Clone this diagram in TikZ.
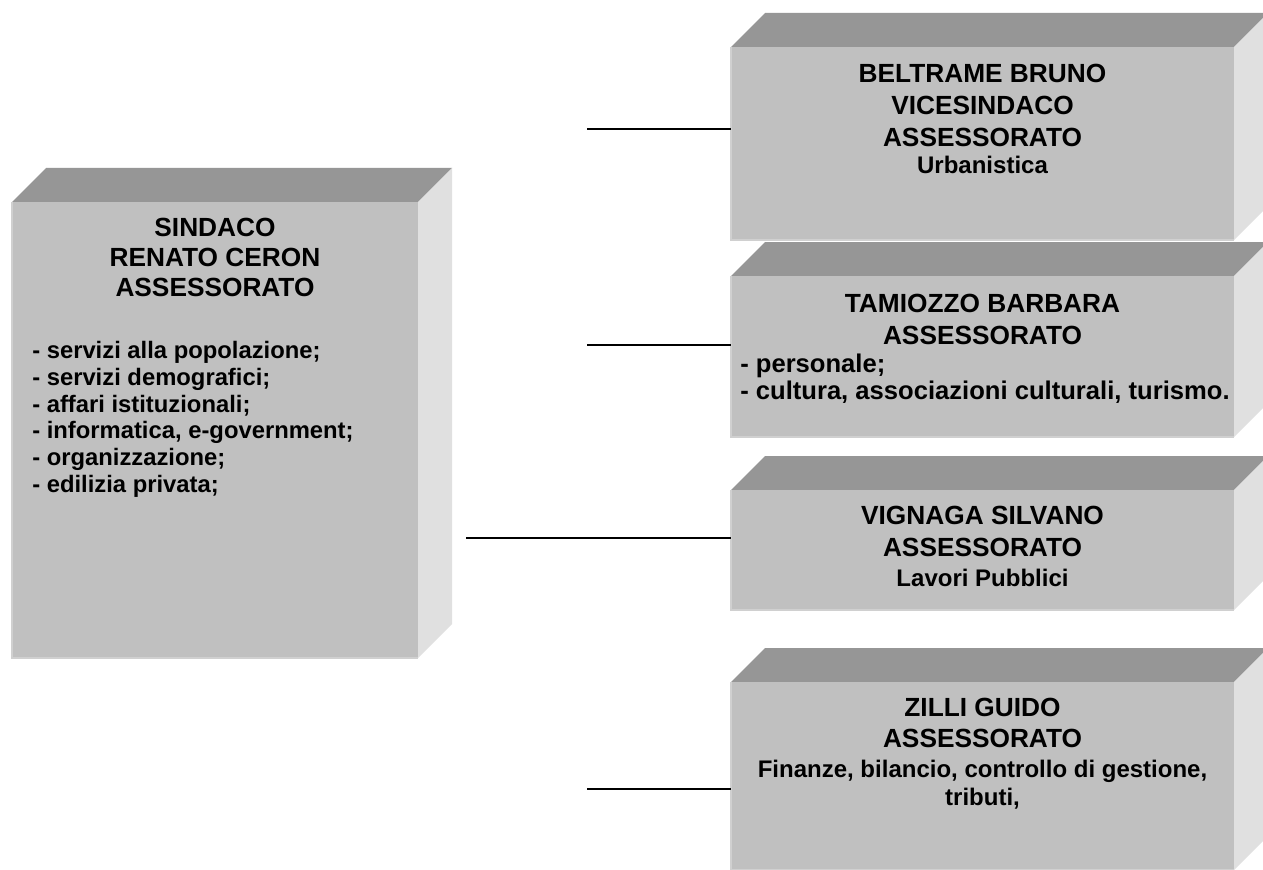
\documentclass[tikz,border=0pt]{standalone}
\usepackage{fontspec}
\setmainfont{Liberation Sans}
\usetikzlibrary{fit}

\definecolor{topface}{HTML}{969696}
\definecolor{frontface}{HTML}{C0C0C0}
\definecolor{sideface}{HTML}{E0E0E0}
\definecolor{frontedge}{HTML}{D0D0D0}

% 3D block: name, left, top, right, bottom of the front face (px, y downward)
\newcommand{\blockbox}[5]{%
  \fill[topface] (#2,#3) -- ++(34,-34) -- (#4+34,#3-34) -- (#4,#3) -- cycle;
  \fill[sideface] (#4,#3) -- (#4+34,#3-34) -- (#4+34,#5-34) -- (#4,#5) -- cycle;
  \coordinate (#1-nw) at (#2,#3);
  \coordinate (#1-se) at (#4,#5);
  \node[frontbox, fit=(#1-nw)(#1-se)] (#1) {};
  \draw[bevel] (#1.north west) -- (#1.south west) -- (#1.south east);
}

\tikzset{
  frontbox/.style={fill=frontface, inner sep=0pt, outer sep=0pt},
  bevel/.style={frontedge, line width=1.2pt},
  conn/.style={black, line width=1.1pt},
  head/.style={anchor=base, inner sep=0pt, font=\bfseries\fontsize{19.7}{23}\selectfont},
  sub/.style={anchor=base, inner sep=0pt, font=\bfseries\fontsize{18}{21}\selectfont},
  item/.style={anchor=base west, inner sep=0pt, font=\bfseries\fontsize{17.85}{20}\selectfont},
  bigitem/.style={anchor=base west, inner sep=0pt, font=\bfseries\fontsize{19.2}{23}\selectfont},
}

\begin{document}
\begin{tikzpicture}[x=0.75pt, y=-0.75pt]
  \clip (0,0) rectangle (1263,870);
  \useasboundingbox (0,0) rectangle (1263,870);
  \fill[white] (0,0) rectangle (1263,870);

  % blocks
  \blockbox{sindaco}{12}{202}{418}{658}
  \blockbox{beltrame}{731}{47}{1234}{240}
  \blockbox{tamiozzo}{731}{276}{1234}{437}
  \blockbox{vignaga}{731}{490}{1234}{610}
  \blockbox{zilli}{731}{682}{1234}{870}

  % sindaco
  \node[head] (s1) at (215,236) {SINDACO};
  \node[head] (s2) at (215,266) {RENATO CERON};
  \node[head] (s3) at (215,296) {ASSESSORATO};
  \node[item] (s4) at (32,358.5) {- servizi alla popolazione;};
  \node[item] (s5) at (32,385) {- servizi demografici;};
  \node[item] (s6) at (32,412) {- affari istituzionali;};
  \node[item] (s7) at (32,438.5) {- informatica, e-government;};
  \node[item] (s8) at (32,465) {- organizzazione;};
  \node[item] (s9) at (32,492) {- edilizia privata;};

  % beltrame
  \node[head] (b1) at (982.5,82.5) {BELTRAME BRUNO};
  \node[head] (b2) at (982.5,114.5) {VICESINDACO};
  \node[head] (b3) at (982.5,146.5) {ASSESSORATO};
  \node[sub]  (b4) at (982.5,173.5) {Urbanistica};

  % tamiozzo
  \node[head] (t1) at (982.5,312.5) {TAMIOZZO BARBARA};
  \node[head] (t2) at (982.5,344.5) {ASSESSORATO};
  \node[bigitem] (t3) at (740,372) {- personale;};
  \node[bigitem] (t4) at (740,399) {- cultura, associazioni culturali, turismo.};

  % vignaga
  \node[head] (v1) at (982.5,524.5) {VIGNAGA SILVANO};
  \node[head] (v2) at (982.5,556.5) {ASSESSORATO};
  \node[sub]  (v3) at (982.5,586.5) {Lavori Pubblici};

  % zilli
  \node[head] (z1) at (982.5,716.5) {ZILLI GUIDO};
  \node[head] (z2) at (982.5,747.5) {ASSESSORATO};
  \node[sub]  (z3) at (982.5,777) {Finanze, bilancio, controllo di gestione,};
  \node[sub]  (z4) at (982.5,805) {tributi,};

  % connectors
  \coordinate (cb) at (587,129);
  \coordinate (ct) at (587,345);
  \coordinate (cv) at (466,538);
  \coordinate (cz) at (587,789);
  \draw[conn] (cb) -- (cb -| beltrame.west);
  \draw[conn] (ct) -- (ct -| tamiozzo.west);
  \draw[conn] (cv) -- (cv -| vignaga.west);
  \draw[conn] (cz) -- (cz -| zilli.west);
\end{tikzpicture}
\end{document}
